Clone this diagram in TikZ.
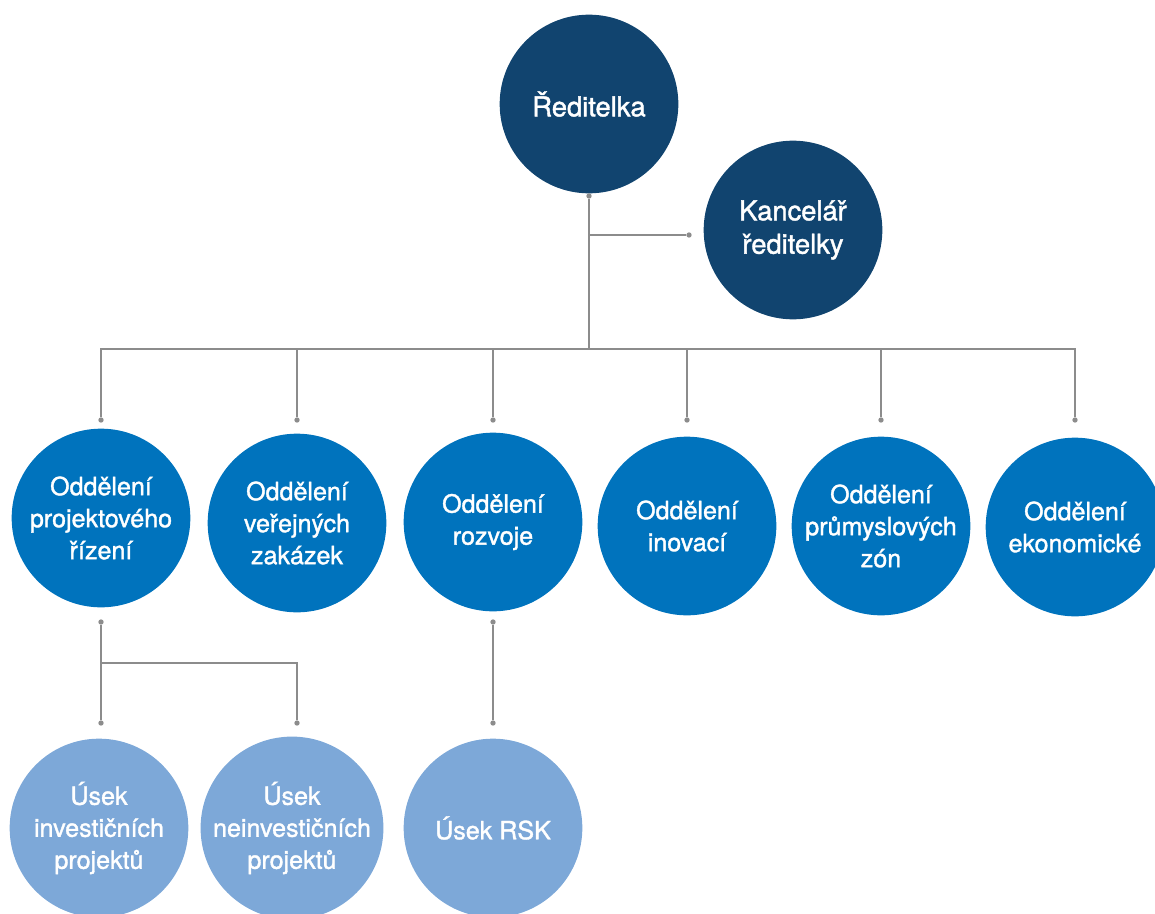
\documentclass[tikz,border=0pt]{standalone}
\usepackage{fontspec}
\setmainfont{TeX Gyre Heros}[BoldFont={TeX Gyre Heros}, BoldFeatures={FakeBold=1.4}]
\usepackage{xcolor}
\usepackage{tikz}
\usetikzlibrary{calc}
\definecolor{navy}{HTML}{11446F}
\definecolor{deptblue}{HTML}{0073BD}
\definecolor{light}{HTML}{7DA8D8}
\definecolor{wire}{HTML}{8C8C8C}
\tikzset{
  orb/.style={circle, inner sep=0pt, minimum size=134pt, align=center, text=white},
  head/.style={orb, fill=navy, font=\bfseries\fontsize{20.5}{25}\selectfont},
  dept/.style={orb, fill=deptblue, font=\bfseries\fontsize{18.8}{24}\selectfont},
  unit/.style={orb, fill=light, font=\bfseries\fontsize{18.8}{24}\selectfont},
  link/.style={draw=wire, line width=1.1pt},
  endpt/.style={circle, fill=wire, inner sep=0pt, minimum size=4pt}
}

\begin{document}
\begin{tikzpicture}[x=0.75pt, y=-0.75pt]
  \useasboundingbox (0,0) rectangle (1155,913);

  % top level
  \node[head] (dir) at (589,104) {Ředitelka};
  \node[head] (kanc) at (793,230) {Kancelář\\ředitelky};

  % departments
  \node[dept] (proj) at (101,518) {Oddělení\\projektového\\řízení};
  \node[dept] (zak)  at (297,523) {Oddělení\\veřejných\\zakázek};
  \node[dept] (roz)  at (493,522) {Oddělení\\rozvoje};
  \node[dept] (ino)  at (687,526) {Oddělení\\inovací};
  \node[dept] (prum) at (881,526) {Oddělení\\průmyslových\\zón};
  \node[dept] (eko)  at (1075,527) {Oddělení\\ekonomické};

  % sections
  \node[unit] (inv)  at (99,828)  {Úsek\\investičních\\projektů};
  \node[unit] (ninv) at (292,828) {Úsek\\neinvestičních\\projektů};
  \node[unit] (rsk)  at (493,828) {Úsek RSK};

  % connector ends
  \node[endpt] (d0) at (589,196) {};
  \node[endpt] (k0) at (689,235) {};
  \foreach \n/\x in {1/101, 2/297, 3/493, 4/687, 5/881, 6/1075}
    \node[endpt] (t\n) at (\x,420) {};
  \node[endpt] (b1) at (101,622) {};
  \node[endpt] (b3) at (493,622) {};
  \node[endpt] (u1) at (101,723) {};
  \node[endpt] (u2) at (297,723) {};
  \node[endpt] (u3) at (493,723) {};
  \coordinate (bus) at (589,349);
  \coordinate (fork) at (101,663);

  \draw[link] (d0) -- (bus);
  \draw[link] (d0 |- k0) -- (k0);
  \foreach \n in {1,...,6}
    \draw[link] (bus) -| (t\n);
  \draw[link] (b1) -- (u1);
  \draw[link] (fork) -| (u2);
  \draw[link] (b3) -- (u3);
\end{tikzpicture}
\end{document}
